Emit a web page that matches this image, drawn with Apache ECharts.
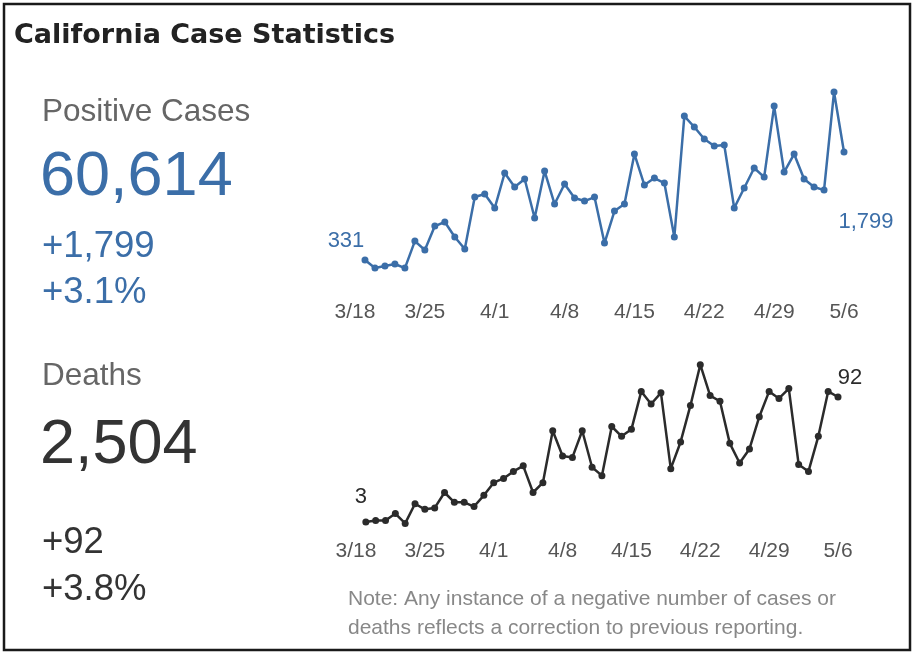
<!DOCTYPE html>
<html>
<head>
<meta charset="utf-8">
<script src="https://cdn.jsdelivr.net/npm/echarts@6/dist/echarts.min.js"></script>
<style>
  html, body { margin: 0; padding: 0; background: #fff; }
  #chart { width: 916px; height: 655px; }
</style>
</head>
<body>
<div id="chart"></div>
<script>
// Axis days, 3/18 through 5/6
const days = [
  '3/18','3/19','3/20','3/21','3/22','3/23','3/24','3/25','3/26','3/27',
  '3/28','3/29','3/30','3/31','4/1','4/2','4/3','4/4','4/5','4/6',
  '4/7','4/8','4/9','4/10','4/11','4/12','4/13','4/14','4/15','4/16',
  '4/17','4/18','4/19','4/20','4/21','4/22','4/23','4/24','4/25','4/26',
  '4/27','4/28','4/29','4/30','5/1','5/2','5/3','5/4','5/5','5/6'
];

// New positive cases per day, starting 3/19
const newCases = [
  331, 222, 249, 277, 222, 589, 467, 793, 848, 644,
  481, 1187, 1228, 1038, 1514, 1323, 1432, 902, 1541, 1092,
  1364, 1174, 1133, 1187, 562, 997, 1092, 1772, 1350, 1446,
  1378, 644, 2288, 2139, 1976, 1881, 1894, 1038, 1310, 1582,
  1459, 2424, 1527, 1772, 1432, 1323, 1282, 2615, 1799
];

// New deaths per day, starting 3/19
const newDeaths = [
  3, 4, 4, 9, 2, 16, 12, 13, 24, 17,
  17, 14, 22, 31, 34, 39, 43, 24, 31, 68,
  50, 49, 68, 42, 36, 71, 64, 69, 96, 87,
  95, 41, 60, 86, 115, 93, 89, 59, 45, 55,
  78, 96, 91, 98, 44, 39, 64, 96, 92
];

// Headline figures
const casesTotal = '60,614';
const casesChange = '+1,799';
const casesPct = '+3.1%';
const deathsTotal = '2,504';
const deathsChange = '+92';
const deathsPct = '+3.8%';

const BLUE = '#3b6ea8';
const DARK = '#2b2b2b';
const GRAY = '#666666';
const FONT = '"Liberation Sans", Arial, sans-serif';
const TITLE_FONT = '"DejaVu Sans", Verdana, sans-serif';

function fmt(v) { return v.toLocaleString('en-US'); }

// Pair each value with its day; first and last points carry a label
function buildSeriesData(values, firstLabel, lastLabel) {
  return values.map((v, i) => {
    const item = { value: [days[i + 1], v] };
    if (i === 0) item.label = firstLabel;
    if (i === values.length - 1) item.label = lastLabel;
    return item;
  });
}

const labelBase = { show: true, position: 'inside', fontFamily: FONT, fontSize: 22,
  formatter: p => fmt(p.value[1]) };

const axisLabelStyle = { color: '#555', fontFamily: FONT, fontSize: 21, interval: 6 };

const chart = echarts.init(document.getElementById('chart'), null, { renderer: 'canvas' });

chart.setOption({
  animation: false,
  backgroundColor: '#fff',
  grid: [
    { left: 355, right: 72, top: 78.4, height: 206 },
    { left: 356, right: 78, top: 357.7, height: 168.5 }
  ],
  xAxis: [
    { type: 'category', gridIndex: 0, data: days, boundaryGap: false,
      axisLine: { show: false }, axisTick: { show: false }, splitLine: { show: false },
      axisLabel: Object.assign({ margin: 17 }, axisLabelStyle) },
    { type: 'category', gridIndex: 1, data: days, boundaryGap: false,
      axisLine: { show: false }, axisTick: { show: false }, splitLine: { show: false },
      axisLabel: Object.assign({ margin: 15 }, axisLabelStyle) }
  ],
  yAxis: [
    { type: 'value', gridIndex: 0, min: 0, max: 2800, show: false, splitLine: { show: false } },
    { type: 'value', gridIndex: 1, min: 0, max: 120, show: false, splitLine: { show: false } }
  ],
  series: [
    {
      name: 'Positive Cases', type: 'line', xAxisIndex: 0, yAxisIndex: 0,
      data: buildSeriesData(newCases,
        Object.assign({}, labelBase, { color: BLUE, offset: [-19, -19] }),
        Object.assign({}, labelBase, { color: BLUE, offset: [22, 70] })),
      lineStyle: { color: BLUE, width: 2.5 },
      itemStyle: { color: BLUE },
      symbol: 'circle', symbolSize: 7, showAllSymbol: true
    },
    {
      name: 'Deaths', type: 'line', xAxisIndex: 1, yAxisIndex: 1,
      data: buildSeriesData(newDeaths,
        Object.assign({}, labelBase, { color: DARK, offset: [-5, -25] }),
        Object.assign({}, labelBase, { color: DARK, offset: [12, -19] })),
      lineStyle: { color: DARK, width: 2.5 },
      itemStyle: { color: DARK },
      symbol: 'circle', symbolSize: 7, showAllSymbol: true
    }
  ],
  graphic: [
    { type: 'rect', shape: { x: 4, y: 4, width: 906, height: 646 },
      style: { fill: 'none', stroke: '#1a1a1a', lineWidth: 2.5 }, silent: true },
    { type: 'text', x: 14, y: 36,
      style: { text: 'California Case Statistics', fill: '#222', font: 'bold 27px ' + TITLE_FONT,
        verticalAlign: 'middle' } },
    { type: 'text', x: 42, y: 112,
      style: { text: 'Positive Cases', fill: GRAY, font: '31.5px ' + FONT, verticalAlign: 'middle' } },
    { type: 'text', x: 40, y: 178,
      style: { text: casesTotal, fill: BLUE, font: '63px ' + FONT, verticalAlign: 'middle' } },
    { type: 'text', x: 42, y: 247,
      style: { text: casesChange, fill: BLUE, font: '36.5px ' + FONT, verticalAlign: 'middle' } },
    { type: 'text', x: 42, y: 293,
      style: { text: casesPct, fill: BLUE, font: '36.5px ' + FONT, verticalAlign: 'middle' } },
    { type: 'text', x: 42, y: 376,
      style: { text: 'Deaths', fill: GRAY, font: '31.5px ' + FONT, verticalAlign: 'middle' } },
    { type: 'text', x: 40, y: 446,
      style: { text: deathsTotal, fill: '#333', font: '63px ' + FONT, verticalAlign: 'middle' } },
    { type: 'text', x: 42, y: 543,
      style: { text: deathsChange, fill: '#333', font: '36.5px ' + FONT, verticalAlign: 'middle' } },
    { type: 'text', x: 42, y: 590,
      style: { text: deathsPct, fill: '#333', font: '36.5px ' + FONT, verticalAlign: 'middle' } },
    { type: 'text', x: 348, y: 599,
      style: { text: 'Note: Any instance of a negative number of cases or', fill: '#888',
        font: '21px ' + FONT, verticalAlign: 'middle' } },
    { type: 'text', x: 348, y: 628,
      style: { text: 'deaths reflects a correction to previous reporting.', fill: '#888',
        font: '21px ' + FONT, verticalAlign: 'middle' } }
  ]
});
</script>
</body>
</html>
